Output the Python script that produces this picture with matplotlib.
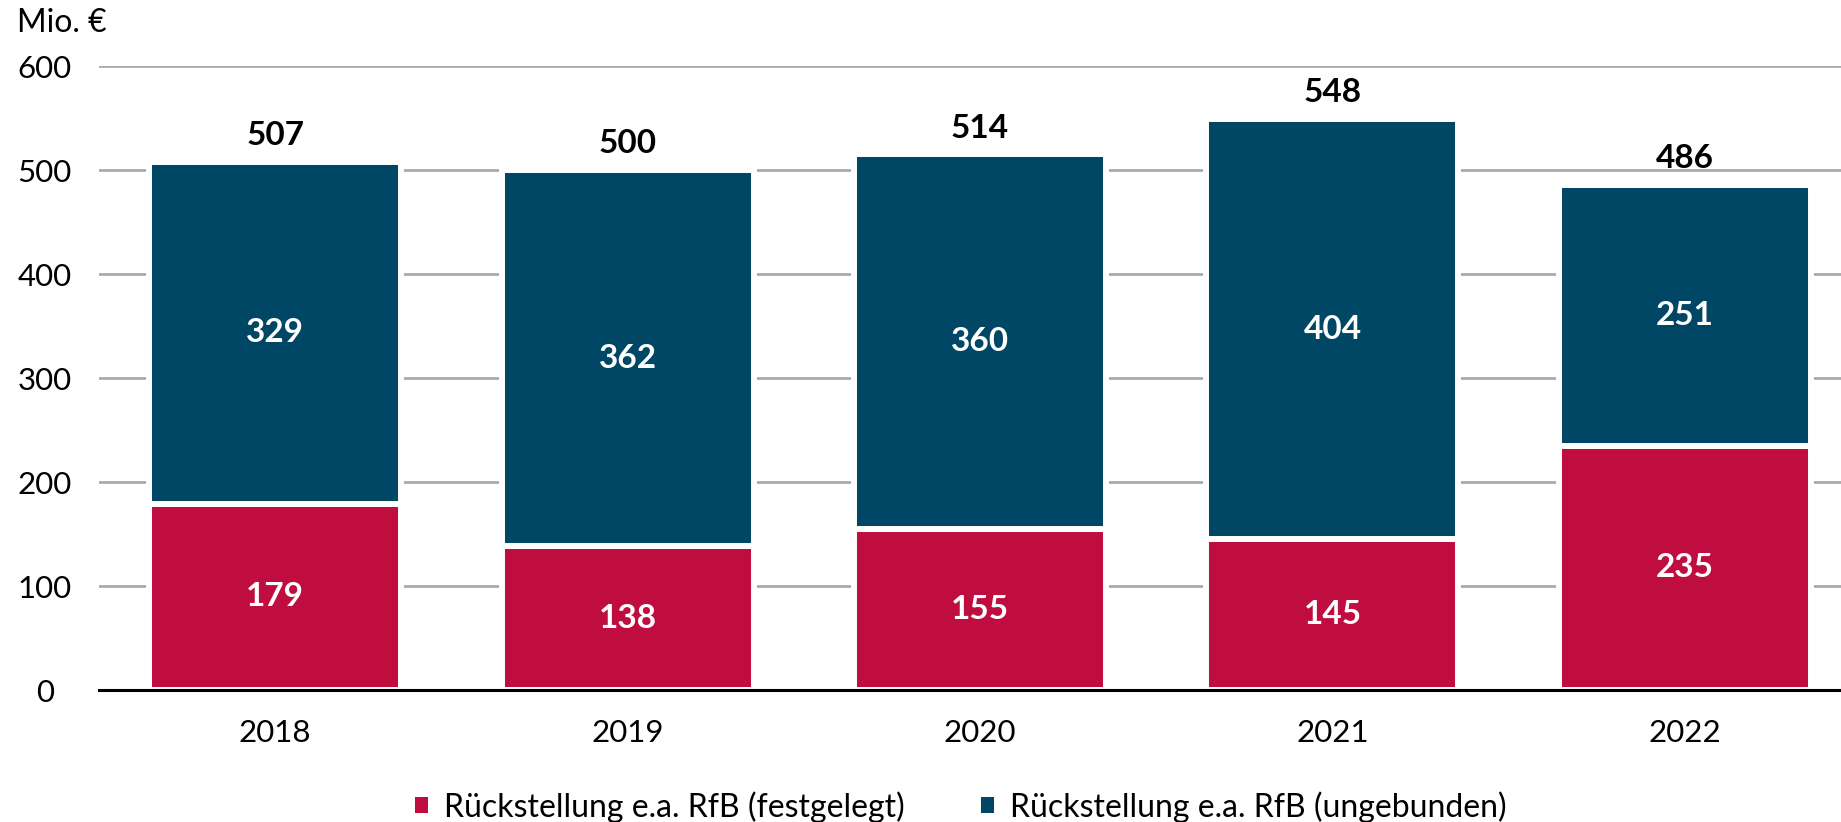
import matplotlib.pyplot as plt
import numpy as np

plt.rcParams['font.family'] = ['Lato', 'DejaVu Sans']

years = ['2018', '2019', '2020', '2021', '2022']
festgelegt = [179, 138, 155, 145, 235]
ungebunden = [329, 362, 360, 404, 251]
totals = [507, 500, 514, 548, 486]

red = '#C00D40'
blue = '#004766'

fig = plt.figure(figsize=(18.41, 8.22), dpi=100)
ax = fig.add_axes([99 / 1841, 1 - 690 / 822, 1 - 99 / 1841, (690 - 66) / 822])

x = np.arange(len(years))
w = 0.715
ax.bar(x, festgelegt, w, color=red, edgecolor='white', linewidth=4.3, zorder=3,
       label='Rückstellung e.a. RfB (festgelegt)')
ax.bar(x, ungebunden, w, bottom=festgelegt, color=blue, edgecolor='white', linewidth=4.3,
       zorder=3, label='Rückstellung e.a. RfB (ungebunden)')

for i in range(len(years)):
    ax.text(x[i], festgelegt[i] / 2, str(festgelegt[i]), ha='center', va='center',
            color='white', fontsize=24, fontweight='bold', zorder=4)
    ax.text(x[i], festgelegt[i] + ungebunden[i] / 2, str(ungebunden[i]), ha='center',
            va='center', color='white', fontsize=24, fontweight='bold', zorder=4)
    ax.annotate(str(totals[i]), (x[i], festgelegt[i] + ungebunden[i]), xytext=(0, 19),
                textcoords='offset points', ha='center', va='center',
                fontsize=24, fontweight='bold', color='black')

ax.set_xlim(-0.5, 4.443)
ax.set_ylim(0, 600)
ax.set_yticks([0, 100, 200, 300, 400, 500, 600])
ax.set_xticks(x)
ax.set_xticklabels(years)
ax.tick_params(axis='both', length=0, labelsize=22.5)
ax.tick_params(axis='x', pad=21)
ax.tick_params(axis='y', pad=39)
for lab in ax.get_yticklabels():
    lab.set_ha('center')

ax.grid(axis='y', color='#A9AAB4', linewidth=2, zorder=1)
for s in ['top', 'right', 'left']:
    ax.spines[s].set_visible(False)
ax.spines['bottom'].set_linewidth(2.2)
ax.spines['bottom'].set_color('black')
ax.spines['bottom'].set_zorder(5)

fig.text(17 / 1841, 1 - 23 / 822, 'Mio. €', fontsize=23, va='center', ha='left')

leg = fig.legend(loc='center', bbox_to_anchor=(0.522, 1 - 807 / 822), ncol=2, frameon=False,
                 fontsize=23, handlelength=0.4, handleheight=0.4, handletextpad=0.5,
                 columnspacing=2.4)
for h in leg.legend_handles:
    h.set_linewidth(0)

fig.savefig('out.png', dpi=100)
